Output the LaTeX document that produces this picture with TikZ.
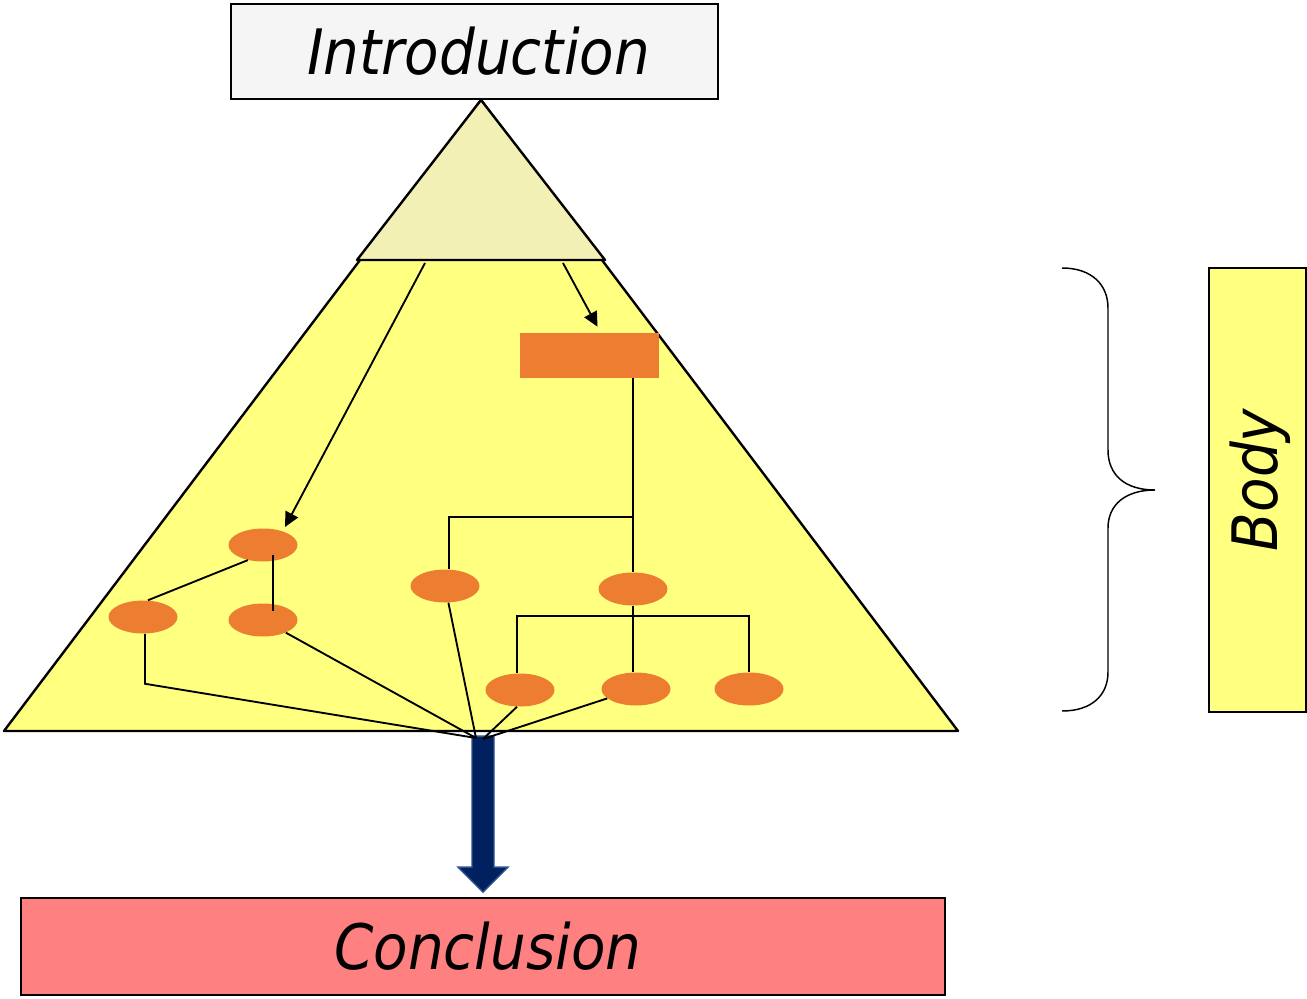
\documentclass[tikz,border=0pt]{standalone}
\usepackage{fontspec}
\newfontfamily\vfont{DejaVu Sans}[FakeStretch=0.9]
\usetikzlibrary{calc,arrows.meta,shapes.geometric}
\definecolor{introfill}{HTML}{F5F5F5}
\definecolor{bodyyellow}{HTML}{FFFF80}
\definecolor{topbeige}{HTML}{F2F0B4}
\definecolor{orangefill}{HTML}{ED7D31}
\definecolor{pinkfill}{HTML}{FF8080}
\definecolor{navyfill}{HTML}{002060}
\definecolor{navyedge}{HTML}{2F528F}
\tikzset{
  titlebox/.style={draw=black, line width=1.3pt, inner sep=0pt, font=\vfont\itshape\fontsize{47}{50}\selectfont},
  leaf/.style={ellipse, fill=orangefill, draw=none, minimum width=51.75pt, minimum height=24.75pt, inner sep=0pt},
  conn/.style={line width=1.4pt, black},
  arr/.style={conn, -{Triangle[length=11pt,width=10.5pt]}},
}
\begin{document}
\begin{tikzpicture}[x=0.75pt,y=-0.75pt]
\useasboundingbox (0,0) rectangle (1307,999);

% pyramid
\draw[fill=bodyyellow, line width=1.8pt, line join=round] (481,100) -- (958,731) -- (4,731) -- cycle;
\draw[fill=topbeige, line width=1.8pt, line join=round] (481,100) -- (605,260) -- (357,260) -- cycle;

% boxes
\node[titlebox, fill=introfill, minimum width=365.25pt, minimum height=71.25pt] (intro) at (474.5,51.5) {\hspace*{6pt}Introduction};
\node[titlebox, fill=pinkfill, minimum width=693pt, minimum height=72.75pt] (conc) at (483,946.5) {\hspace*{7.5pt}Conclusion};
\node[draw=black, line width=1.3pt, fill=bodyyellow, minimum width=72.75pt, minimum height=333pt, inner sep=0pt] (bodybox) at (1257.5,490) {};
\node[rotate=90, font=\vfont\itshape\fontsize{47}{50}\selectfont, inner sep=0pt] (bodytext) at (1260,480) {Body};

% brace
\draw[line width=1.1pt] (1062,268) .. controls (1092,268) and (1108,285) .. (1108,308) -- (1108,450)
  .. controls (1108,475) and (1125,490) .. (1155,490)
  .. controls (1125,490) and (1108,505) .. (1108,528) -- (1108,672)
  .. controls (1108,695) and (1092,711) .. (1062,711);

% orange rectangle and leaves
\node[fill=orangefill, minimum width=104.25pt, minimum height=33.75pt, inner sep=0pt] (rect) at (589.5,355.5) {};
\node[leaf] (E1) at (263,545) {};
\node[leaf] (E2) at (143,617) {};
\node[leaf] (E3) at (263,620) {};
\node[leaf] (E4) at (445,586) {};
\node[leaf] (E5) at (633,589) {};
\node[leaf] (E6) at (520,690) {};
\node[leaf] (E7) at (636,689) {};
\node[leaf] (E8) at (749,689) {};

% block arrow to conclusion
\filldraw[fill=navyfill, draw=navyedge, line width=1pt, line join=miter]
  ($(conc.north)+(0,-5)$) -- ++(-25,-25) -- ++(14,0) -- ++(0,-131) -- ++(22,0) -- ++(0,131) -- ++(14,0) -- cycle;

\coordinate (hubL) at (476,738);
\coordinate (hubR) at (483,739);
\coordinate (s1) at (425,263);
\coordinate (s2) at (563,263);

% arrows from top triangle
\draw[arr] (s1) -- ($(E1.center)+(22,-18)$);
\draw[arr] (s2) -- ($(rect.north)+(8,-6)$);

% tree lines
\draw[conn] (rect.south -| E5.north) -- (E5.north);
\draw[conn] ($(E5.north)+(0,-55)$) -| ($(E4.north)+(4,0)$);
\draw[conn] (E5.south) -- (E5.south |- E7.north);
\draw[conn] ($(E6.north)+(-3,0)$) -- ++(0,-57) -| (E8.north);
\draw[conn] (E1.225) -- ($(E2.north)+(5,0)$);
\draw[conn] ($(E1.center)+(10,10)$) -- ($(E3.center)+(10,-9)$);

% lines to the hub
\draw[conn] ($(E2.south)+(2,0)$) -- ++(0,50) -- (hubL);
\draw[conn] (E3) -- (hubL);
\draw[conn] (E4) -- (hubL);
\draw[conn] ($(E6.south)+(-3,0)$) -- (hubR);
\draw[conn] (E7) -- (hubR);
\end{tikzpicture}
\end{document}
